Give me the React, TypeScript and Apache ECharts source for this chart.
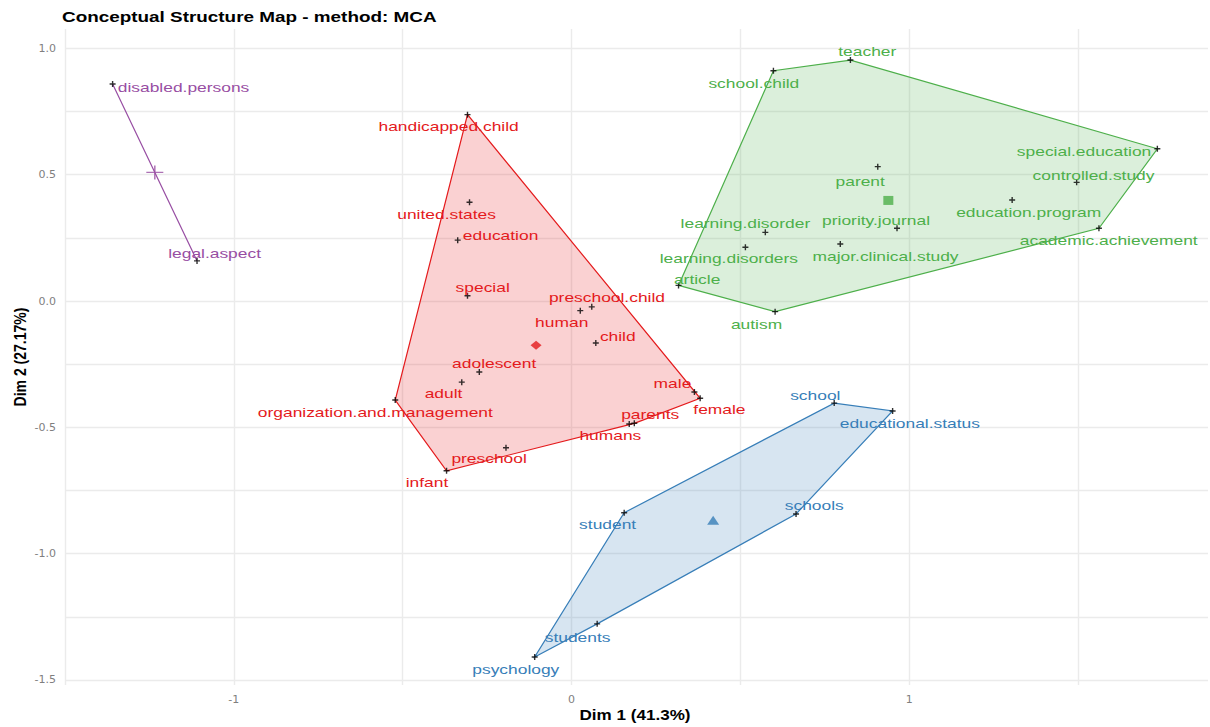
import React, { useEffect, useRef } from "react";
import * as echarts from "echarts";

// ---- Data (Dim 1, Dim 2 coordinates) ----
const redNames = ["handicapped.child", "united.states", "education", "special", "preschool.child", "human", "child", "adolescent", "adult", "organization.and.management", "male", "female", "parents", "humans", "preschool", "infant"];
const redX = [-0.308, -0.302, -0.337, -0.308, 0.060, 0.026, 0.072, -0.273, -0.325, -0.522, 0.364, 0.381, 0.186, 0.171, -0.194, -0.370];
const redY = [0.738, 0.391, 0.241, 0.021, -0.023, -0.038, -0.166, -0.281, -0.321, -0.392, -0.360, -0.385, -0.484, -0.487, -0.581, -0.672];
const redLabelX = [-0.364, -0.370, -0.210, -0.263, 0.105, -0.029, 0.137, -0.229, -0.379, -0.581, 0.299, 0.438, 0.233, 0.115, -0.244, -0.428];
const redLabelY = [0.693, 0.344, 0.261, 0.053, 0.015, -0.084, -0.140, -0.245, -0.365, -0.439, -0.327, -0.428, -0.449, -0.530, -0.624, -0.718];

const greenNames = ["teacher", "school.child", "special.education", "parent", "controlled.study", "education.program", "academic.achievement", "priority.journal", "learning.disorder", "major.clinical.study", "learning.disorders", "article", "autism"];
const greenX = [0.826, 0.598, 1.735, 0.907, 1.496, 1.305, 1.562, 0.964, 0.574, 0.796, 0.515, 0.317, 0.603];
const greenY = [0.954, 0.912, 0.603, 0.532, 0.470, 0.400, 0.288, 0.288, 0.272, 0.226, 0.213, 0.062, -0.042];
const greenLabelX = [0.876, 0.540, 1.518, 0.855, 1.546, 1.354, 1.591, 0.902, 0.515, 0.930, 0.466, 0.372, 0.548];
const greenLabelY = [0.991, 0.864, 0.594, 0.476, 0.499, 0.350, 0.240, 0.321, 0.308, 0.178, 0.168, 0.086, -0.091];

const blueNames = ["school", "educational.status", "schools", "student", "students", "psychology"];
const blueX = [0.778, 0.951, 0.665, 0.156, 0.076, -0.109];
const blueY = [-0.404, -0.435, -0.843, -0.838, -1.278, -1.409];
const blueLabelX = [0.722, 1.002, 0.719, 0.107, 0.018, -0.165];
const blueLabelY = [-0.371, -0.482, -0.808, -0.884, -1.329, -1.458];

const purpleNames = ["disabled.persons", "legal.aspect"];
const purpleX = [-1.359, -1.109];
const purpleY = [0.859, 0.159];
const purpleLabelX = [-1.149, -1.057];
const purpleLabelY = [0.848, 0.191];

const xTicks = [-1.5, -1, -0.5, 0, 0.5, 1, 1.5];
const xTickLabels = [-1, 0, 1];
const yTicks = [-1.5, -1.25, -1, -0.75, -0.5, -0.25, 0, 0.25, 0.5, 0.75, 1];
const yTickLabels = [-1.5, -1, -0.5, 0, 0.5, 1];

const TITLE = "Conceptual Structure Map - method: MCA";
const X_TITLE = "Dim 1 (41.3%)";
const Y_TITLE = "Dim 2 (27.17%)";

// ---- Helpers ----
function convexHull(pts: number[][]): number[][] {
  const p = pts.slice().sort((a, b) => (a[0] === b[0] ? a[1] - b[1] : a[0] - b[0]));
  if (p.length < 3) return p;
  const cross = (o: number[], a: number[], b: number[]) =>
    (a[0] - o[0]) * (b[1] - o[1]) - (a[1] - o[1]) * (b[0] - o[0]);
  const lower: number[][] = [];
  for (const q of p) {
    while (lower.length >= 2 && cross(lower[lower.length - 2], lower[lower.length - 1], q) <= 0) lower.pop();
    lower.push(q);
  }
  const upper: number[][] = [];
  for (let i = p.length - 1; i >= 0; i--) {
    const q = p[i];
    while (upper.length >= 2 && cross(upper[upper.length - 2], upper[upper.length - 1], q) <= 0) upper.pop();
    upper.push(q);
  }
  upper.pop();
  lower.pop();
  return lower.concat(upper);
}

const mean = (a: number[]) => a.reduce((s, v) => s + v, 0) / a.length;

const POINT_SYMBOL = "path://M-0.7,-3H0.7V-0.7H3V0.7H0.7V3H-0.7V0.7H-3V-0.7H-0.7Z";
const BIG_PLUS = "path://M-0.7,-8H0.7V-0.7H8V0.7H0.7V8H-0.7V0.7H-8V-0.7H-0.7Z";

type Cluster = {
  names: string[];
  x: number[];
  y: number[];
  lx: number[];
  ly: number[];
  color: string;
  fill: string;
  symbol: string;
  symbolSize: number[];
};

const clusters: Cluster[] = [
  { names: redNames, x: redX, y: redY, lx: redLabelX, ly: redLabelY, color: "#E41A1C", fill: "rgba(228,26,28,0.2)", symbol: "diamond", symbolSize: [11, 9] },
  { names: greenNames, x: greenX, y: greenY, lx: greenLabelX, ly: greenLabelY, color: "#4DAF4A", fill: "rgba(77,175,74,0.2)", symbol: "rect", symbolSize: [10, 9] },
  { names: blueNames, x: blueX, y: blueY, lx: blueLabelX, ly: blueLabelY, color: "#377EB8", fill: "rgba(55,126,184,0.2)", symbol: "triangle", symbolSize: [12, 9] },
  { names: purpleNames, x: purpleX, y: purpleY, lx: purpleLabelX, ly: purpleLabelY, color: "#984EA3", fill: "rgba(152,78,163,0.2)", symbol: BIG_PLUS, symbolSize: [17, 14] },
];

const LABEL_FONT = "'Liberation Sans', Arial, sans-serif";
const STRETCH = 1.28;

function buildSeries(): any[] {
  const series: any[] = [];
  clusters.forEach((c, ci) => {
    const pts = c.x.map((v, i) => [v, c.y[i]]);
    const hull = convexHull(pts);
    const cx = mean(c.x);
    const cy = mean(c.y);
    // hull polygon
    series.push({
      type: "custom",
      name: "hull" + ci,
      silent: true,
      z: 1,
      data: [[cx, cy]],
      renderItem: (_params: any, api: any) => {
        const points = hull.map((h) => api.coord(h));
        return {
          type: "polygon",
          shape: { points },
          style: { fill: c.fill, stroke: c.color, lineWidth: 1.2 },
        };
      },
    });
    // term points
    series.push({
      type: "scatter",
      name: "points" + ci,
      z: 3,
      symbol: POINT_SYMBOL,
      symbolSize: 6,
      itemStyle: { color: "#000000" },
      data: pts,
    });
    // labels
    series.push({
      type: "custom",
      name: "labels" + ci,
      z: 4,
      silent: true,
      data: c.lx.map((v, i) => [v, c.ly[i], i]),
      renderItem: (_params: any, api: any) => {
        const p = api.coord([api.value(0), api.value(1)]);
        const name = c.names[api.value(2) as number];
        return {
          type: "text",
          x: p[0],
          y: p[1],
          scaleX: STRETCH,
          style: {
            text: name,
            fill: c.color,
            fontSize: 13.6,
            fontFamily: LABEL_FONT,
            align: "center",
            verticalAlign: "middle",
            textAlign: "center",
            textVerticalAlign: "middle",
          },
        };
      },
    });
    // centroid
    series.push({
      type: "scatter",
      name: "centroid" + ci,
      z: 5,
      symbol: c.symbol,
      symbolSize: c.symbolSize,
      itemStyle: { color: c.color },
      data: [[cx, cy]],
    });
  });
  return series;
}

export default function App() {
  const ref = useRef<HTMLDivElement>(null);
  useEffect(() => {
    if (!ref.current) return;
    const chart = echarts.init(ref.current, undefined, { renderer: "svg" });
    const gridLine = { show: true, lineStyle: { color: "#EBEBEB", width: 1.4 } };
    chart.setOption({
      animation: false,
      backgroundColor: "#ffffff",
      grid: { left: 65, right: 2, top: 29, bottom: 42, containLabel: false },
      xAxis: {
        type: "value",
        min: -1.5,
        max: 1.885,
        axisLine: { show: false },
        axisTick: { show: false, customValues: xTicks },
        splitLine: gridLine,
        axisLabel: {
          customValues: xTickLabels,
          formatter: (v: number) => String(v),
          color: "#7f7f7f",
          fontSize: 11,
          fontFamily: "'DejaVu Sans', sans-serif",
          margin: 9,
        },
      },
      yAxis: {
        type: "value",
        min: -1.52,
        max: 1.077,
        axisLine: { show: false },
        axisTick: { show: false, customValues: yTicks },
        splitLine: gridLine,
        axisLabel: {
          customValues: yTickLabels,
          formatter: (v: number) => v.toFixed(1),
          color: "#7f7f7f",
          fontSize: 11,
          fontFamily: "'DejaVu Sans', sans-serif",
          margin: 9,
        },
      },
      graphic: [
        {
          type: "text",
          x: 62,
          y: 17,
          scaleX: 1.26,
          style: {
            text: TITLE,
            fill: "#000000",
            font: "bold 15px 'Liberation Sans', Arial, sans-serif",
            align: "left",
            verticalAlign: "middle",
          },
        },
        {
          type: "text",
          x: 635,
          y: 715,
          scaleX: 1.22,
          style: {
            text: X_TITLE,
            fill: "#000000",
            font: "bold 14px 'Liberation Sans', Arial, sans-serif",
            align: "center",
            verticalAlign: "middle",
          },
        },
        {
          type: "text",
          x: 20,
          y: 357,
          rotation: Math.PI / 2,
          scaleY: 1.22,
          style: {
            text: Y_TITLE,
            fill: "#000000",
            font: "bold 14px 'Liberation Sans', Arial, sans-serif",
            align: "center",
            verticalAlign: "middle",
          },
        },
      ],
      series: buildSeries(),
    });
    return () => chart.dispose();
  }, []);
  return (
    <div
      ref={ref}
      style={{ position: "fixed", left: 0, top: 0, width: 1210, height: 727 }}
    />
  );
}
